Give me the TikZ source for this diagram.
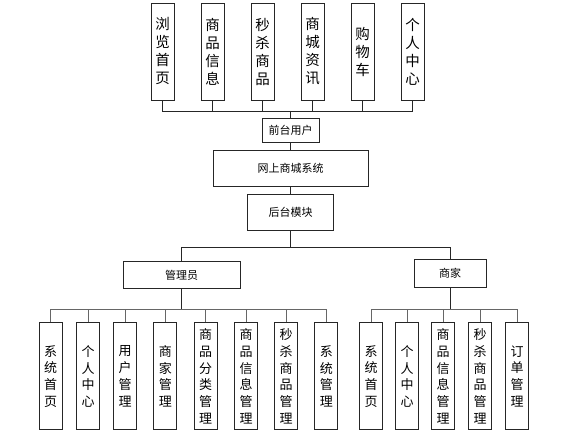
\documentclass[tikz,border=0pt]{standalone}
\usepackage{fontspec}
\newfontfamily\cjk{Noto Sans CJK SC}
\begin{document}
\begin{tikzpicture}[x=1pt,y=-1pt,
  box/.style={draw=black!85,line width=0.9pt,inner sep=0pt,align=center,fill=white},
  topbox/.style={box,minimum width=23pt,minimum height=97pt,font=\cjk\fontsize{14.5}{18}\selectfont},
  botbox/.style={box,minimum width=23pt,minimum height=107pt,font=\cjk\fontsize{13}{16.7}\selectfont},
  midbox/.style={box,font=\cjk\fontsize{11}{12}\selectfont},
  conn/.style={draw=black!85,line width=0.9pt},
  stub/.style={draw=black!60,line width=0.9pt}]
\useasboundingbox (0,0) rectangle (587,436);
% top row
\node[topbox] (t1) at (162.5,51.5) {浏\\览\\首\\页};
\node[topbox] (t2) at (212.5,51.5) {商\\品\\信\\息};
\node[topbox] (t3) at (262.5,51.5) {秒\\杀\\商\\品};
\node[topbox] (t4) at (312.5,51.5) {商\\城\\资\\讯};
\node[topbox] (t5) at (362.5,51.5) {购\\物\\车};
\node[topbox] (t6) at (412.5,51.5) {个\\人\\中\\心};
% middle
\node[midbox,minimum width=57pt,minimum height=24pt] (fu) at (290.5,130) {前台用户};
\node[midbox,minimum width=155pt,minimum height=36pt] (sys) at (290.5,168) {网上商城系统};
\node[midbox,minimum width=86pt,minimum height=36pt] (hm) at (290.5,212) {后台模块};
\node[midbox,minimum width=117pt,minimum height=27pt] (adm) at (181.7,275) {管理员};
\node[midbox,minimum width=72pt,minimum height=28pt] (mer) at (450,273) {商家};
% bottom admin
\node[botbox] (a1) at (50.7,376.3) {系\\统\\首\\页};
\node[botbox] (a2) at (88,376.3) {个\\人\\中\\心};
\node[botbox] (a3) at (125,376.3) {用\\户\\管\\理};
\node[botbox] (a4) at (165.3,376.3) {商\\家\\管\\理};
\node[botbox] (a5) at (205.7,376.3) {商\\品\\分\\类\\管\\理};
\node[botbox] (a6) at (246,376.3) {商\\品\\信\\息\\管\\理};
\node[botbox] (a7) at (286,376.3) {秒\\杀\\商\\品\\管\\理};
\node[botbox] (a8) at (326.3,376.3) {系\\统\\管\\理};
% bottom merchant
\node[botbox] (m1) at (371,376.3) {系\\统\\首\\页};
\node[botbox] (m2) at (407,376.3) {个\\人\\中\\心};
\node[botbox] (m3) at (443,376.3) {商\\品\\信\\息\\管\\理};
\node[botbox] (m4) at (480,376.3) {秒\\杀\\商\\品\\管\\理};
\node[botbox] (m5) at (517,376.3) {订\\单\\管\\理};
% bus coordinates
\coordinate (bt) at (290.5,111);
\coordinate (bm) at (290.5,247);
\coordinate (ba) at (181.7,309);
\coordinate (bb) at (450,309);
% connectors
\foreach \n in {t1,t2,t3,t4,t5,t6} \draw[conn] (\n.south) |- (bt);
\draw[conn] (bt) -- (fu.north);
\draw[conn] (fu.south) -- (sys.north);
\draw[conn] (sys.south) -- (hm.north);
\draw[conn] (hm.south) -- (bm);
\draw[conn] (adm.north) |- (bm);
\draw[conn] (mer.north) |- (bm);
\draw[conn] (adm.south) -- (ba);
\draw[conn] (mer.south) -- (bb);
\foreach \n in {a1,a2,a3,a4,a5,a6,a7,a8} \draw[stub] (\n.north) |- (ba);
\foreach \n in {m1,m2,m3,m4,m5} \draw[stub] (\n.north) |- (bb);
\end{tikzpicture}
\end{document}
